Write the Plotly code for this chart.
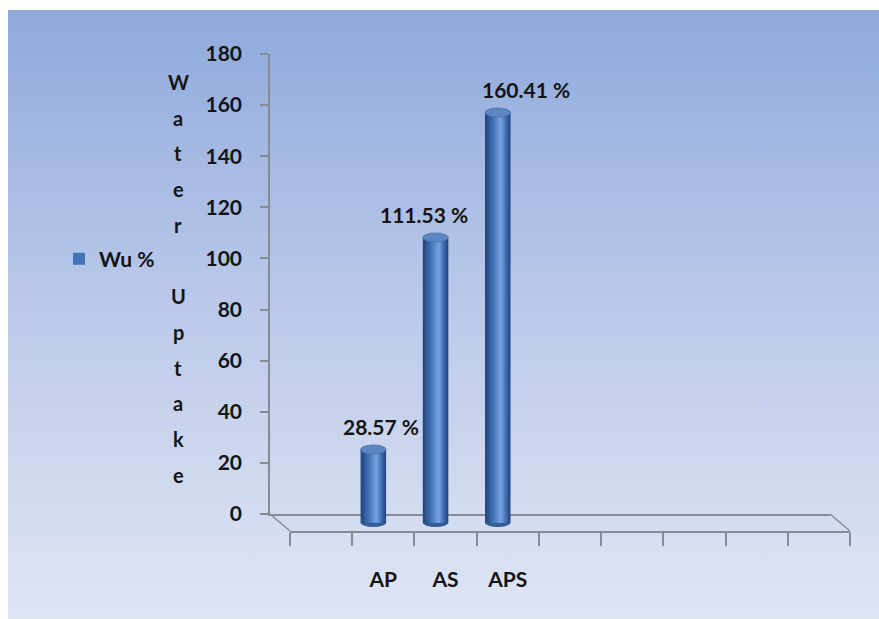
import base64
import plotly.graph_objects as go

# ---------------- data ----------------
categories = ["AP", "AS", "APS"]
wu_values = [28.57, 111.53, 160.41]
y_ticks = [0, 20, 40, 60, 80, 100, 120, 140, 160, 180]
series_name = "Wu %"
axis_title = "Water Uptake"
n_slots = 9          # category slots on the floor
first_slot = 1       # first slot is empty in the original

# ---------------- helpers ----------------
W, H = 879, 619
def fx(px): return px / W
def fy(py): return 1 - py / H

pos = [first_slot + 0.5 + i for i in range(len(categories))]
labels = [f"{v:.2f} %" for v in wu_values]
label_dx = [18, -2, 38]          # label nudges (px)

FONT = "Lato, 'Noto Sans', sans-serif"
TXT = "#141414"
LINE = "#868c96"
PPU = (514 - 54) / 180.0         # pixels per unit

fig = go.Figure()

# ---------------- cylinder bars (layered shading) ----------------
bar_w = 0.41
hl = 0.62
n_layers = 16
edge = (36, 70, 126)
mid = (64, 112, 180)
hi = (114, 160, 222)
def lerp(a, b, t):
    return tuple(int(round(a[i] + (b[i] - a[i]) * t)) for i in range(3))

for k in range(n_layers):
    t = k / (n_layers - 1)
    left = -bar_w / 2 + t * (hl * bar_w) * 0.92
    right = bar_w / 2 - t * ((1 - hl) * bar_w) * 0.92
    col = lerp(edge, mid, t * 2) if t < 0.5 else lerp(mid, hi, (t - 0.5) * 2)
    fig.add_trace(go.Bar(
        x=pos, y=wu_values, xaxis="x2", yaxis="y2",
        width=right - left, offset=left,
        marker=dict(color="rgb(%d,%d,%d)" % col, line=dict(width=0)),
        name=series_name, showlegend=(k == n_layers // 2),
        hoverinfo="skip",
    ))

# front category axis carrier (invisible)
fig.add_trace(go.Scatter(x=pos, y=[0] * len(pos), xaxis="x3", yaxis="y3",
                         mode="none", showlegend=False, hoverinfo="skip"))

cap = 1.8
for p, v in zip(pos, wu_values):
    fig.add_shape(type="circle", xref="x2", yref="y2",
                  x0=p - bar_w / 2, x1=p + bar_w / 2, y0=v - cap, y1=v + cap,
                  fillcolor="#5c86c2", line=dict(color="#3f67a3", width=0.6),
                  layer="above")
    fig.add_shape(type="circle", xref="x2", yref="y2",
                  x0=p - bar_w / 2, x1=p + bar_w / 2, y0=-cap, y1=cap,
                  fillcolor="#315e9b", line=dict(width=0), layer="below")

# ---------------- data labels ----------------
for p, v, t, dx in zip(pos, wu_values, labels, label_dx):
    fig.add_annotation(x=p, y=v, xref="x", yref="y", text=t, showarrow=False,
                       yanchor="bottom", xshift=dx, yshift=0,
                       font=dict(family=FONT, size=21, color=TXT, weight="bold"))

# ---------------- vertical stacked axis title ----------------
for i, ch in enumerate(axis_title):
    if ch.strip():
        fig.add_annotation(x=fx(178), y=fy(82 + 35.7 * i), xref="paper", yref="paper",
                           text=ch, showarrow=False, xanchor="center", yanchor="middle",
                           font=dict(family=FONT, size=20, color=TXT, weight="bold"))

# ---------------- floor diagonals ----------------
for (x0, y0, x1, y1) in [(270, 514, 290, 531), (830, 514, 850, 531)]:
    fig.add_shape(type="line", xref="paper", yref="paper",
                  x0=fx(x0), y0=fy(y0), x1=fx(x1), y1=fy(y1),
                  line=dict(color=LINE, width=1.5))

# ---------------- background gradient ----------------
svg = ('<svg xmlns="http://www.w3.org/2000/svg" width="100" height="100" viewBox="0 0 100 100" '
       'preserveAspectRatio="none"><defs><linearGradient id="g" x1="0" y1="0" x2="0" y2="1">'
       '<stop offset="0" stop-color="#8fa9dc"/><stop offset="0.5" stop-color="#bccaea"/>'
       '<stop offset="1" stop-color="#dfe5f3"/></linearGradient></defs>'
       '<rect x="0" y="0" width="100" height="100" fill="url(#g)"/></svg>')
src = "data:image/svg+xml;base64," + base64.b64encode(svg.encode()).decode()

tickfont = dict(family=FONT, size=21, color=TXT, weight="bold")

fig.update_layout(
    width=W, height=H, margin=dict(l=0, r=0, t=0, b=0, autoexpand=False),
    paper_bgcolor="white", plot_bgcolor="rgba(0,0,0,0)",
    barmode="overlay", showlegend=True,
    images=[dict(source=src, xref="paper", yref="paper", x=fx(8), y=fy(10),
                 sizex=1 - fx(8), sizey=fy(10), xanchor="left", yanchor="top",
                 sizing="stretch", layer="below")],
    legend=dict(x=fx(59), y=fy(259), xanchor="left", yanchor="middle",
                bgcolor="rgba(0,0,0,0)", font=dict(family=FONT, size=21, color=TXT, weight="bold")),
    # back plane (value axis)
    xaxis=dict(domain=[fx(270), fx(830)], range=[0, n_slots], anchor="y",
               showline=True, linecolor=LINE, linewidth=1.5, showticklabels=False,
               ticks="", showgrid=False, zeroline=False),
    yaxis=dict(domain=[fy(514), fy(54)], range=[0, 180], anchor="x",
               tickmode="array", tickvals=y_ticks, ticks="outside", ticklen=8,
               tickcolor=LINE, tickwidth=1.5, showline=True, linecolor=LINE, linewidth=1.5,
               showgrid=False, zeroline=False, tickfont=tickfont, ticklabelstandoff=14),
    # mid-depth plane (bars)
    xaxis2=dict(domain=[fx(280), fx(840)], range=[0, n_slots], anchor="y2", visible=False),
    yaxis2=dict(domain=[fy(522.5 + 10 * PPU), fy(522.5 - 180 * PPU)], range=[-10, 180],
                anchor="x2", visible=False),
    # front edge (category axis)
    xaxis3=dict(domain=[fx(290), fx(850)], range=[0, n_slots], anchor="y3",
                tickmode="array", tickvals=pos, ticktext=categories, ticks="",
                showline=True, linecolor=LINE, linewidth=1.5, showgrid=False, zeroline=False,
                minor=dict(ticks="outside", ticklen=13, tickcolor=LINE, tickwidth=1.5,
                           tickmode="array", tickvals=list(range(n_slots + 1))),
                tickfont=tickfont, ticklabelstandoff=29),
    yaxis3=dict(domain=[fy(531), fy(400)], range=[0, 1], anchor="x3", visible=False),
)

fig.write_html("out.html")
